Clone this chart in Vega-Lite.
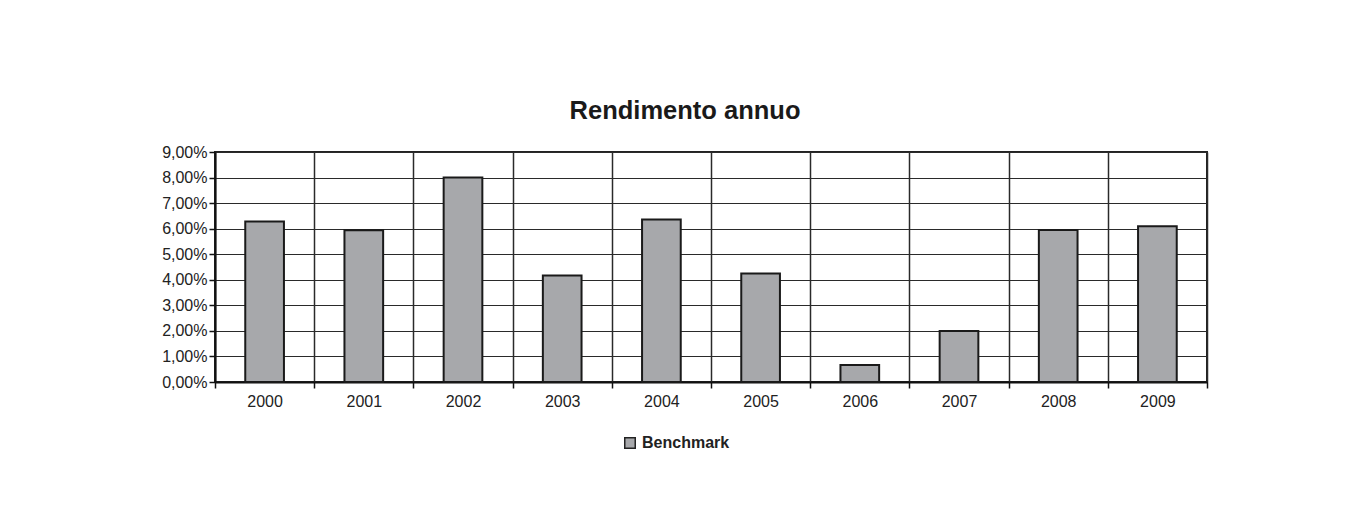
{
  "$schema": "https://vega.github.io/schema/vega-lite/v6.json",
  "autosize": {"type": "none"},
  "width": 992,
  "height": 230,
  "padding": {"left": 215, "top": 152, "right": 151, "bottom": 150},
  "background": "white",
  "title": {
    "text": "Rendimento annuo",
    "font": "Liberation Sans",
    "fontSize": 25.5,
    "fontWeight": "bold",
    "color": "#1a1a1a",
    "anchor": "middle",
    "frame": "group",
    "baseline": "alphabetic",
    "offset": 0,
    "dx": -26
  },
  "config": {
    "view": {"stroke": "#222", "strokeWidth": 2},
    "axis": {
      "labelFont": "Liberation Sans",
      "labelFontSize": 16,
      "labelColor": "#222",
      "domainColor": "#111",
      "tickColor": "#111",
      "gridColor": "#2a2a2a",
      "title": null
    }
  },
  "data": {
    "values": [
      {"year": "2000", "value": 0.0628, "series": "Benchmark"},
      {"year": "2001", "value": 0.0594, "series": "Benchmark"},
      {"year": "2002", "value": 0.0800, "series": "Benchmark"},
      {"year": "2003", "value": 0.0417, "series": "Benchmark"},
      {"year": "2004", "value": 0.0636, "series": "Benchmark"},
      {"year": "2005", "value": 0.0425, "series": "Benchmark"},
      {"year": "2006", "value": 0.0067, "series": "Benchmark"},
      {"year": "2007", "value": 0.0200, "series": "Benchmark"},
      {"year": "2008", "value": 0.0595, "series": "Benchmark"},
      {"year": "2009", "value": 0.0609, "series": "Benchmark"}
    ]
  },
  "mark": {"type": "bar", "width": {"band": 0.39}, "stroke": "#1a1a1a", "strokeWidth": 2},
  "encoding": {
    "x": {
      "field": "year",
      "type": "ordinal",
      "scale": {"paddingInner": 0, "paddingOuter": 0},
      "axis": {
        "labelAngle": 0,
        "tickBand": "extent",
        "grid": true,
        "gridWidth": 1.5,
        "ticks": true,
        "tickSize": 6,
        "tickWidth": 1.5,
        "domainWidth": 2,
        "labelPadding": 5
      }
    },
    "y": {
      "field": "value",
      "type": "quantitative",
      "scale": {"domain": [0, 0.09], "nice": false},
      "axis": {
        "values": [0, 0.01, 0.02, 0.03, 0.04, 0.05, 0.06, 0.07, 0.08, 0.09],
        "labelExpr": "replace(format(datum.value, '.2%'), '.', ',')",
        "grid": true,
        "gridWidth": 1,
        "tickSize": 6,
        "tickWidth": 1.5,
        "domainWidth": 2,
        "labelPadding": 2
      }
    },
    "color": {
      "field": "series",
      "type": "nominal",
      "scale": {"range": ["#a7a8ab"]},
      "legend": {
        "title": null,
        "orient": "none",
        "legendX": 407,
        "legendY": 283,
        "symbolType": "square",
        "symbolSize": 110,
        "symbolStrokeColor": "#222",
        "symbolStrokeWidth": 1.5,
        "symbolFillColor": "#a7a8ab",
        "labelFont": "Liberation Sans",
        "labelFontSize": 16,
        "labelFontWeight": "bold",
        "labelColor": "#222",
        "labelOffset": 4
      }
    }
  }
}
